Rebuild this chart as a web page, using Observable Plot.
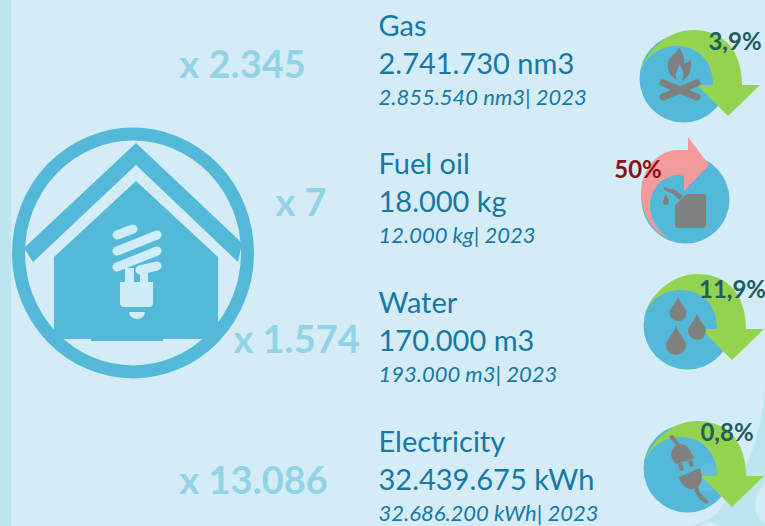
<!DOCTYPE html>
<html><head><meta charset="utf-8">
<style>html,body{margin:0;padding:0;background:#d3ecf5;overflow:hidden}svg{display:block}</style>
<script src="https://cdn.jsdelivr.net/npm/d3@7"></script>
<script src="https://cdn.jsdelivr.net/npm/@observablehq/plot@0.6"></script>
</head><body><div id="chart"></div>
<script>
const categories = ["Gas", "Fuel oil", "Water", "Electricity"];
const current = ["2.741.730 nm3", "18.000 kg", "170.000 m3", "32.439.675 kWh"];
const previous = ["2.855.540 nm3| 2023", "12.000 kg| 2023", "193.000 m3| 2023", "32.686.200 kWh| 2023"];
const multipliers = ["x 2.345", "x 7", "x 1.574", "x 13.086"];
const changes = ["3,9%", "50%", "11,9%", "0,8%"];
const direction = ["down", "up", "down", "down"];

// layout
const rowY = [26, 164, 303, 442];
const multX = [179, 275, 233, 179];
const multY = [65, 203, 340, 481];
const circX = [683, 685, 687, 687];
const circY = [78, 199, 325, 468];
const arrowDy = [2, 0, -1, 3];
const pctX = [734.5, 637.5, 732, 726.5];
const pctY = [42, 170, 290, 433];

const rows = categories.map((c, i) => ({c, cur: current[i], prev: previous[i], mult: multipliers[i], pct: changes[i], dir: direction[i], i}));
const font = "Lato, 'Open Sans', sans-serif";

const svgPath = (d, attrs) => {
  const p = document.createElementNS("http://www.w3.org/2000/svg", "path");
  p.setAttribute("d", d);
  for (const k in attrs) p.setAttribute(k, attrs[k]);
  return p;
};
const shape = (d, attrs, cx = 0, cy = 0) => (index, {x, y}) => svgPath(d, {transform: `translate(${x(cx)},${y(cy)})`, ...attrs});

const blue = "#54b9d9", light = "#cfecf9", grey = "#808080", green = "#93d350", pink = "#f49a9c", bgDark = "#bce5f0";
const downArrow = "M-44,-5 C-36,-33 -12,-50 10,-50 C42,-50 59,-28 59,5 L77,5 L45,36 L14,5 L30,5 C30,-20 14,-34 -6,-34 C-24,-34 -38,-24 -44,-5 Z";
const upArrow = "M3,-62 L24,-34 L-1,-8 L-1,-24 C-20,-26 -35,-12 -35,8 C-35,20 -27,32 -17,38 C-32,34 -44,14 -44,-6 C-44,-32 -24,-49 -8,-49 L3,-49 Z";
const fire = "M679,47 C682,53 685,57 684,63 C687,63 689,62 690,59 C693,67 690,77 682,81 C686,72 681,70 680,64 C678,70 674,72 677,80 C670,77 667,70 668,63 C669,56 677,54 679,47 Z";
const logs = "M663,83 L697,97 M697,83 L663,97";
const can = "M-2,6 L10,-5 H26 A3,3 0 0 1 29,-2 V26 A3,3 0 0 1 26,29 H1 A3,3 0 0 1 -2,26 Z M-13,-12 L-2,-9 L6,-3 L3,1 L-4,-5 L-13,-9 Z M-11,-5 C-10,-2 -8,0 -8,3 A3,3 0 0 1 -14,3 C-14,0 -12,-2 -11,-5 Z";
const drop = (x, y, s) => `M${x},${y - 1.75*s} C${x + .3*s},${y - .8*s} ${x + s},${y - .3*s} ${x + s},${y + .2*s} A${s},${s} 0 0 1 ${x - s},${y + .2*s} C${x - s},${y - .3*s} ${x - .3*s},${y - .8*s} ${x},${y - 1.75*s} Z`;
const plug = "M680,444 C686,444 690,448 692,455 L695,458 L676,464 C672,460 670,455 672,450 C674,446 677,444 680,444 Z M678,464 L682,463 L684,470 L680,471 Z M688,461 L692,460 L694,466 L690,467 Z M669,436 L673,435 C675,439 678,441 680,444 L677,446 C674,443 671,440 669,436 Z M679,477 L700,468 L702,476 C702,483 698,489 692,489 C685,489 681,484 679,477 Z M694,488 L698,487 C699,493 703,497 709,501 L707,504 C700,501 695,495 694,488 Z";

const marks = [
  // background
  shape("M0,0H11V526H0Z", {fill: bgDark}),
  shape("M765,385 C762,430 750,475 715,515 C705,522 697,526 690,526 H765 Z", {fill: bgDark}),
  shape("M765,484 C757,488 754,500 756,512 C758,519 761,522 765,523 Z", {fill: "#d3ecf5"}),
  shape("M700,526 C705,521 716,521 722,526 Z", {fill: "#d3ecf5"}),
  // house
  shape("M18.5,253 A114.5,119 0 0 1 247.5,253 A114.5,119 0 0 1 18.5,253 Z", {stroke: blue, "stroke-width": 13, fill: "none"}),
  shape("M136,143 L24,248 L33,262 L136,165 L238,262 L242,243 Z", {fill: blue}),
  shape("M136,181 L54,257 V331 L63,339 H91 V341 H163 V339 H204 L218,324 V257 Z", {fill: blue}),
  shape("M117,235 L133,229 M117,251 L157,235 M117,267 L157,251 M140,270 L157,266", {stroke: light, "stroke-width": 9, "stroke-linecap": "round", fill: "none"}),
  shape("M125,268 H134 V283 H125 Z M140,270 H148 V283 H140 Z M120,282 H153 V303 A4,4 0 0 1 149,307 H124 A4,4 0 0 1 120,303 Z M129,312 H145 A8,7 0 0 1 129,312 Z", {fill: light}),
  // icon discs
  Plot.dot(rows, {x: d => circX[d.i], y: d => circY[d.i], r: 44, fill: blue}),
  shape("M700,470 C706,458 718,460 718,480 C718,490 708,494 700,490 Z", {fill: "#fff", "fill-opacity": 0.08}),
  // arrows
  ...rows.map(d => shape(d.dir === "down" ? downArrow : upArrow, {fill: d.dir === "down" ? green : pink}, circX[d.i], circY[d.i] + arrowDy[d.i])),
  // glyphs
  shape(fire, {fill: grey}),
  shape(logs, {stroke: grey, "stroke-width": 7, "stroke-linecap": "round", fill: "none"}),
  shape(can, {fill: grey}, 677, 199),
  shape(drop(678, 311, 8.5) + drop(697, 329, 9) + drop(676, 343, 10), {fill: grey}),
  shape(plug, {fill: grey}),
  // text
  Plot.text(rows, {x: () => 378, y: d => rowY[d.i], text: "c", textAnchor: "start", fontFamily: font, fontSize: 29, fill: "#1778a6"}),
  Plot.text(rows, {x: () => 378, y: d => rowY[d.i] + 38, text: "cur", textAnchor: "start", fontFamily: font, fontSize: 29, fill: "#1778a6"}),
  Plot.text(rows, {x: () => 378, y: d => rowY[d.i] + 71, text: "prev", textAnchor: "start", fontFamily: font, fontSize: 22, fontStyle: "italic", fill: "#1778a6"}),
  Plot.text(rows, {x: d => multX[d.i], y: d => multY[d.i], text: "mult", textAnchor: "start", fontFamily: font, fontSize: 38, fontWeight: 700, fill: "#93d3e8"}),
  Plot.text(rows, {x: d => pctX[d.i], y: d => pctY[d.i], text: "pct", textAnchor: "middle", fontFamily: font, fontSize: 24, fontWeight: 700, fill: d => d.dir === "down" ? "#1f5c5e" : "#8b0f14"})
];

document.getElementById("chart").append(Plot.plot({
  width: 765, height: 526, margin: 0,
  style: {background: "#d3ecf5", overflow: "hidden"},
  x: {domain: [0, 765], range: [0, 765], axis: null},
  y: {domain: [0, 526], range: [0, 526], axis: null},
  marks
}));
</script></body></html>
